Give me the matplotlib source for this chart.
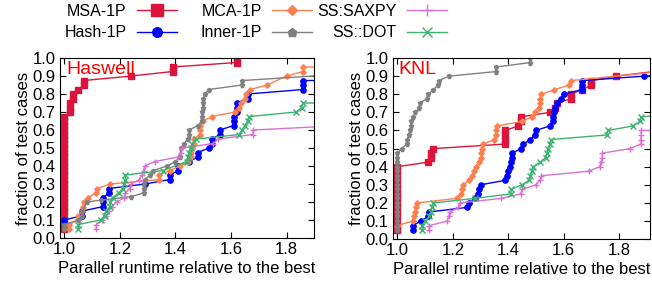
import matplotlib.pyplot as plt

plt.rcParams['font.family'] = ['Liberation Sans', 'DejaVu Sans']

names = ['MSA-1P', 'Hash-1P', 'MCA-1P', 'Inner-1P', 'SS:SAXPY', 'SS::DOT']
colors = ['#dc143c', '#0000ff', '#ff7f50', '#808080', '#da70d6', '#3cb371']
markers = ['s', 'o', 'D', 'p', '+', 'x']
msizes = [4.5, 3.8, 2.8, 3.6, 5, 4]

# ---- Haswell ----
has_msa_x = [1.0, 1.0, 1.0, 1.0, 1.0, 1.0, 1.0, 1.0, 1.0, 1.0, 1.0, 1.0, 1.0,
             1.0, 1.0, 1.0, 1.0, 1.0, 1.0, 1.0, 1.0, 1.0, 1.0, 1.0, 1.0, 1.0,
             1.02, 1.02, 1.02, 1.03, 1.03, 1.05, 1.07, 1.07, 1.24, 1.39, 1.39, 1.62, 1.62]
has_msa_y = [0.05, 0.075, 0.10, 0.125, 0.15, 0.175, 0.20, 0.225, 0.25, 0.275, 0.30, 0.325, 0.35,
             0.375, 0.40, 0.425, 0.45, 0.475, 0.50, 0.525, 0.55, 0.575, 0.60, 0.625, 0.65, 0.675,
             0.70, 0.725, 0.75, 0.775, 0.80, 0.825, 0.85, 0.875, 0.90, 0.925, 0.95, 0.975, 1.0]

has_hash_x = [1.0, 1.065, 1.065, 1.14, 1.14, 1.14, 1.16, 1.16, 1.29, 1.38, 1.38, 1.41, 1.41,
              1.45, 1.48, 1.48, 1.52, 1.53, 1.53, 1.56, 1.56, 1.61, 1.61, 1.61, 1.62, 1.62,
              1.62, 1.66, 1.66, 1.86, 1.86, 1.86, 1.95]
has_hash_y = [0.10, 0.125, 0.15, 0.175, 0.20, 0.225, 0.25, 0.275, 0.30, 0.325, 0.35, 0.375, 0.40,
              0.425, 0.45, 0.475, 0.50, 0.525, 0.55, 0.575, 0.60, 0.625, 0.65, 0.675, 0.70, 0.725,
              0.75, 0.775, 0.80, 0.825, 0.85, 0.875, 0.875]

has_mca_x = [1.018, 1.018, 1.048, 1.048, 1.065, 1.068, 1.07, 1.085, 1.115, 1.117, 1.165, 1.34,
             1.34, 1.38, 1.415, 1.445, 1.455, 1.455, 1.46, 1.465, 1.465, 1.49, 1.49, 1.49, 1.50,
             1.53, 1.615, 1.63, 1.635, 1.65, 1.655, 1.67, 1.73, 1.80, 1.86, 1.86, 1.95]
has_mca_y = [0.05, 0.075, 0.10, 0.125, 0.15, 0.175, 0.20, 0.225, 0.25, 0.275, 0.30, 0.325,
             0.35, 0.375, 0.40, 0.425, 0.45, 0.475, 0.50, 0.525, 0.55, 0.575, 0.60, 0.625, 0.65,
             0.675, 0.70, 0.725, 0.75, 0.775, 0.80, 0.825, 0.85, 0.90, 0.925, 0.95, 0.95]

has_inner_x = [1.0, 1.0, 1.05, 1.065, 1.065, 1.08, 1.13, 1.24, 1.285, 1.285, 1.285, 1.29, 1.31,
               1.32, 1.37, 1.40, 1.415, 1.42, 1.43, 1.445, 1.45, 1.45, 1.48, 1.495, 1.495,
               1.495, 1.50, 1.50, 1.50, 1.505, 1.52, 1.64, 1.64, 1.95]
has_inner_y = [0.05, 0.075, 0.10, 0.125, 0.15, 0.20, 0.21, 0.23, 0.25, 0.275, 0.30, 0.325, 0.35,
               0.375, 0.40, 0.425, 0.45, 0.50, 0.525, 0.55, 0.575, 0.60, 0.625, 0.65, 0.675,
               0.70, 0.725, 0.75, 0.775, 0.80, 0.825, 0.85, 0.875, 0.905]

has_saxpy_x = [1.115, 1.115, 1.135, 1.15, 1.16, 1.17, 1.19, 1.215, 1.22, 1.235, 1.24, 1.27,
               1.28, 1.285, 1.29, 1.325, 1.41, 1.42, 1.425, 1.535, 1.555, 1.68, 1.68, 2.0]
has_saxpy_y = [0.05, 0.075, 0.10, 0.125, 0.15, 0.175, 0.20, 0.225, 0.25, 0.275, 0.30, 0.325,
               0.35, 0.375, 0.40, 0.425, 0.45, 0.475, 0.50, 0.525, 0.55, 0.575, 0.60, 0.625]

has_dot_x = [1.05, 1.05, 1.13, 1.145, 1.15, 1.165, 1.165, 1.175, 1.195, 1.21, 1.215, 1.22, 1.22,
             1.355, 1.44, 1.445, 1.45, 1.455, 1.46, 1.475, 1.63, 1.64, 1.65, 1.66, 1.665, 1.835,
             1.855, 1.86, 1.95]
has_dot_y = [0.05, 0.075, 0.10, 0.125, 0.15, 0.175, 0.20, 0.225, 0.25, 0.275, 0.30, 0.325, 0.35,
             0.375, 0.425, 0.45, 0.475, 0.50, 0.525, 0.55, 0.575, 0.60, 0.625, 0.65, 0.675, 0.70,
             0.725, 0.75, 0.75]

# ---- KNL ----
knl_msa_x = [1.0, 1.0, 1.0, 1.0, 1.0, 1.0, 1.0, 1.0, 1.0, 1.0, 1.0, 1.0, 1.0, 1.0, 1.0,
             1.11, 1.12, 1.12, 1.13, 1.39, 1.39, 1.39, 1.39, 1.435, 1.445, 1.445, 1.55, 1.57,
             1.575, 1.625, 1.625, 1.665, 1.70, 1.70, 1.79, 1.95]
knl_msa_y = [0.05, 0.075, 0.10, 0.125, 0.15, 0.175, 0.20, 0.225, 0.25, 0.275, 0.30, 0.325, 0.35,
             0.375, 0.40, 0.425, 0.45, 0.475, 0.50, 0.525, 0.55, 0.575, 0.60, 0.625, 0.65, 0.675,
             0.70, 0.725, 0.75, 0.775, 0.80, 0.825, 0.85, 0.875, 0.90, 0.93]

knl_hash_x = [1.055, 1.055, 1.085, 1.11, 1.115, 1.25, 1.26, 1.28, 1.29, 1.295, 1.30, 1.39, 1.395,
              1.40, 1.405, 1.41, 1.415, 1.415, 1.445, 1.455, 1.48, 1.495, 1.50, 1.55, 1.56, 1.56,
              1.565, 1.57, 1.575, 1.59, 1.60, 1.665, 1.665, 1.665, 1.89, 1.95]
knl_hash_y = [0.05, 0.075, 0.10, 0.125, 0.15, 0.175, 0.20, 0.225, 0.25, 0.275, 0.30, 0.325, 0.35,
              0.375, 0.40, 0.425, 0.45, 0.475, 0.50, 0.525, 0.55, 0.575, 0.60, 0.625, 0.65, 0.675,
              0.70, 0.725, 0.75, 0.775, 0.80, 0.825, 0.85, 0.875, 0.90, 0.905]

knl_mca_x = [1.0, 1.055, 1.058, 1.062, 1.066, 1.07, 1.215, 1.23, 1.232, 1.235, 1.26, 1.27, 1.275,
             1.285, 1.295, 1.30, 1.302, 1.305, 1.31, 1.35, 1.355, 1.355, 1.36, 1.45, 1.485, 1.495,
             1.51, 1.515, 1.515, 1.52, 1.565, 1.62, 1.625, 1.95]
knl_mca_y = [0.075, 0.10, 0.125, 0.15, 0.175, 0.20, 0.225, 0.25, 0.275, 0.30, 0.325, 0.35, 0.375,
             0.40, 0.425, 0.45, 0.475, 0.50, 0.525, 0.55, 0.575, 0.60, 0.625, 0.65, 0.675, 0.70,
             0.725, 0.75, 0.775, 0.80, 0.825, 0.85, 0.875, 0.925]

knl_inner_x = [1.0, 1.0, 1.0, 1.0, 1.0, 1.0, 1.0, 1.0, 1.0, 1.0, 1.0, 1.0, 1.0, 1.0, 1.0, 1.0,
               1.0, 1.0, 1.015, 1.033, 1.035, 1.04, 1.045, 1.05, 1.05, 1.055, 1.065, 1.078, 1.08,
               1.105, 1.11, 1.13, 1.145, 1.15, 1.185, 1.355, 1.355, 1.48, 1.48]
knl_inner_y = [0.05, 0.075, 0.10, 0.125, 0.15, 0.175, 0.20, 0.225, 0.25, 0.275, 0.30, 0.325, 0.35,
               0.375, 0.40, 0.425, 0.45, 0.475, 0.50, 0.525, 0.55, 0.575, 0.60, 0.625, 0.65, 0.675,
               0.70, 0.725, 0.75, 0.775, 0.80, 0.825, 0.85, 0.875, 0.90, 0.925, 0.95, 0.975, 1.0]

knl_saxpy_x = [1.115, 1.115, 1.18, 1.185, 1.19, 1.22, 1.225, 1.375, 1.445, 1.45, 1.50, 1.515,
               1.52, 1.69, 1.73, 1.735, 1.74, 1.74, 1.84, 1.88, 1.88, 1.88, 1.88, 1.95]
knl_saxpy_y = [0.05, 0.075, 0.10, 0.125, 0.15, 0.175, 0.20, 0.225, 0.25, 0.275, 0.30, 0.325,
               0.35, 0.375, 0.40, 0.425, 0.45, 0.475, 0.50, 0.525, 0.55, 0.575, 0.60, 0.60]

knl_dot_x = [1.09, 1.09, 1.10, 1.115, 1.12, 1.125, 1.13, 1.28, 1.41, 1.41, 1.45, 1.475, 1.48,
             1.485, 1.49, 1.515, 1.535, 1.54, 1.545, 1.55, 1.555, 1.755, 1.76, 1.85, 1.875, 1.88,
             1.95]
knl_dot_y = [0.05, 0.075, 0.10, 0.125, 0.15, 0.175, 0.20, 0.225, 0.25, 0.275, 0.30, 0.325, 0.35,
             0.375, 0.40, 0.425, 0.45, 0.475, 0.50, 0.525, 0.55, 0.575, 0.60, 0.625, 0.65, 0.675,
             0.685]

haswell = [(has_msa_x, has_msa_y), (has_hash_x, has_hash_y), (has_mca_x, has_mca_y),
           (has_inner_x, has_inner_y), (has_saxpy_x, has_saxpy_y), (has_dot_x, has_dot_y)]
knl = [(knl_msa_x, knl_msa_y), (knl_hash_x, knl_hash_y), (knl_mca_x, knl_mca_y),
       (knl_inner_x, knl_inner_y), (knl_saxpy_x, knl_saxpy_y), (knl_dot_x, knl_dot_y)]

fig = plt.figure(figsize=(6.52, 2.83), dpi=100)
ax1 = fig.add_axes([0.092, 0.159, 0.390, 0.636])
ax2 = fig.add_axes([0.602, 0.155, 0.395, 0.640])


def draw(ax, series, title, xlim):
    lines = []
    for (xs, ys), name, c, m, ms in zip(series, names, colors, markers, msizes):
        ln, = ax.plot(xs, ys, color=c, marker=m, markersize=ms, lw=1,
                      markeredgewidth=1, label=name)
        lines.append(ln)
    ax.set_xlim(*xlim)
    ax.set_ylim(0, 1.0)
    ax.set_xticks([1.0, 1.2, 1.4, 1.6, 1.8])
    ax.set_yticks([i / 10 for i in range(11)])
    ax.set_xticklabels(['1.0', '1.2', '1.4', '1.6', '1.8'])
    ax.set_yticklabels(['%.1f' % (i / 10) for i in range(11)])
    ax.tick_params(direction='in', top=True, right=True, length=4, labelsize=12, pad=3)
    ax.set_xlabel('Parallel runtime relative to the best', fontsize=12, labelpad=3)
    ax.set_ylabel('fraction of test cases', fontsize=12, labelpad=1)
    ax.text(0.024, 0.985, title, transform=ax.transAxes, color='#ff0000',
            fontsize=14, ha='left', va='top')
    return lines


lines = draw(ax1, haswell, 'Haswell', (0.984, 1.9))
draw(ax2, knl, 'KNL', (0.982, 1.912))

# three legend columns, right edge of each handle fixed like gnuplot's key
col_right = [177 / 652, 312 / 652, 447 / 652]
for k in range(3):
    leg = fig.legend(handles=lines[2 * k:2 * k + 2], loc='upper right',
                     bbox_to_anchor=(col_right[k], 1 - 4 / 283), ncol=1,
                     frameon=False, markerfirst=False, fontsize=11.5, markerscale=1.8,
                     handlelength=2.5, handletextpad=0.65, labelspacing=0.4,
                     borderpad=0, borderaxespad=0)

fig.savefig('out.png', dpi=100)
